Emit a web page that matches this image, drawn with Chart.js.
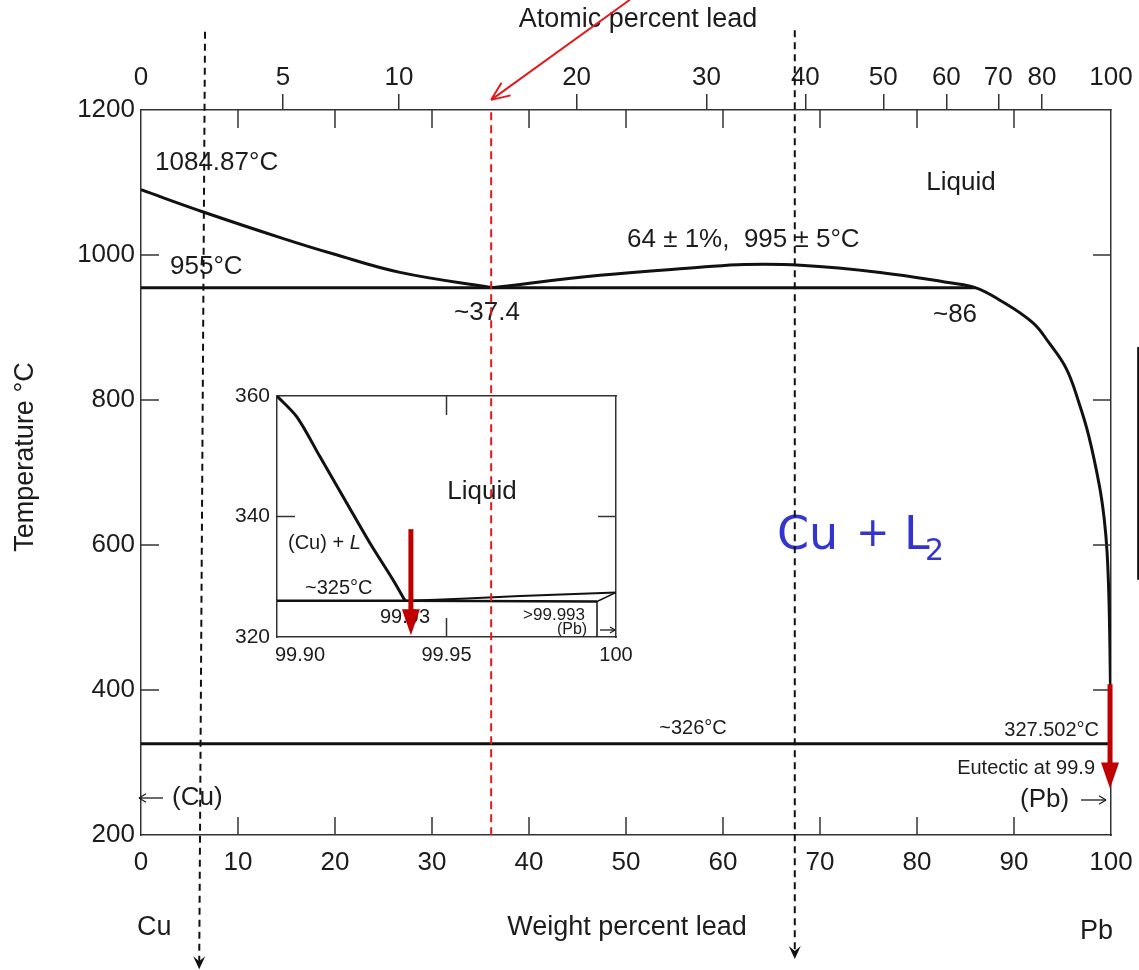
<!DOCTYPE html>
<html>
<head>
<meta charset="utf-8">
<title>Cu-Pb phase diagram</title>
<script src="https://cdn.jsdelivr.net/npm/chart.js@4.4.1/dist/chart.umd.min.js"></script>
<style>
    html, body { margin: 0; padding: 0; background: #fff; }
    #wrap { position: relative; width: 1139px; height: 970px; overflow: hidden; }
    #inset { position: absolute; left: 220px; top: 376px; }
    #main { position: absolute; left: 0; top: 0; }
</style>
</head>
<body>
<div id="wrap">
    <canvas id="inset" width="420" height="294"></canvas>
    <canvas id="main" width="1139" height="970"></canvas>
</div>
<script>
    // ---- main diagram: weight percent Pb vs temperature (deg C) ----
    var cuLiquidusWt = [0, 6.5, 14.6, 19.7, 26.7, 36.2];
    var cuLiquidusT  = [1090, 1059, 1023, 1002, 976, 955];
    var monotecticWt = [0, 86];
    var monotecticT  = [955, 955];
    var gapLiquidusWt = [36.2, 47.3, 57.6, 62.2, 68, 76.2, 83.2, 86, 88.5, 91.9, 93.6, 95.4, 96.7, 97.7, 98.8, 99.3, 99.6, 99.8, 99.95, 100];
    var gapLiquidusT  = [955, 972, 983, 987, 986, 976, 962, 955, 938, 907, 879, 843, 796, 751, 682, 636, 589, 520, 400, 327.5];
    var eutecticWt = [0, 100];
    var eutecticT  = [326, 326];

    var weightTicks = [0, 10, 20, 30, 40, 50, 60, 70, 80, 90, 100];
    var tempTicks   = [200, 400, 600, 800, 1000, 1200];
    var atomicTicks = [0, 5, 10, 20, 30, 40, 50, 60, 70, 80, 100];

    // hand drawn guides on the figure (wt%, deg C)
    var guideTopWt = [6.6, 67.4];
    var guideEndWt = [6.0, 67.4];
    var guideTopT  = [1308, 1310];
    var guideEndT  = [15, 29];
    var redGuideWt = [36.1, 36.1];
    var redGuideT  = [1197, 200];
    var redPointerWt = [50.4, 36.1];
    var redPointerT  = [1352, 1214];
    var eutArrowWt = [99.9, 99.9];
    var eutArrowT  = [408, 264];
    var edgeMarkWt = [102.8, 102.8];
    var edgeMarkT  = [873, 552];

    // ---- inset: 99.90 - 100 wt% Pb ----
    var inCuLiquidusWt = [99.900, 99.9059, 99.9127, 99.9206, 99.9274, 99.9342, 99.9378];
    var inCuLiquidusT  = [360, 356.5, 349.9, 342.2, 335.6, 329.5, 326.0];
    var inEutecticWt = [99.900, 99.9378, 99.9944];
    var inEutecticT  = [326.0, 326.0, 325.9];
    var inPbLiquidusWt = [99.9378, 99.956, 99.9717, 100];
    var inPbLiquidusT  = [326.0, 326.4, 326.8, 327.4];
    var inSolvusWt = [99.9944, 99.9944, 100];
    var inSolvusT  = [320, 325.9, 327.4];
    var inWeightTicks = [99.90, 99.95, 100];
    var inWeightLabels = ['99.90', '99.95', '100'];
    var inTempTicks = [320, 340, 360];
    var inArrowWt = [99.9395, 99.9395];
    var inArrowT  = [337.9, 320.3];

    var FONT = '"Liberation Sans", Arial, Helvetica, sans-serif';
    var INK = '#1c1c1c';
    var AXIS = '#333';

    function atToWt(at){
        var pb = 207.2, cu = 63.546;
        return at * pb / (at * pb + (100 - at) * cu) * 100;
    }

    function series(xs, ys){
        return xs.map(function(x, i){ return { x: x, y: ys[i] }; });
    }

    function lineSet(xs, ys, width, tension){
        return {
            data: series(xs, ys),
            showLine: true,
            borderColor: '#111',
            borderWidth: width,
            pointRadius: 0,
            tension: tension || 0,
            fill: false,
            xAxisID: 'x',
            yAxisID: 'y'
        };
    }

    function line(ctx, x1, y1, x2, y2){
        ctx.beginPath();
        ctx.moveTo(x1, y1);
        ctx.lineTo(x2, y2);
        ctx.stroke();
    }

    function text(ctx, str, x, y, size, align, style){
        ctx.font = (style ? style + ' ' : '') + size + 'px ' + FONT;
        ctx.textAlign = align || 'left';
        ctx.textBaseline = 'middle';
        ctx.fillText(str, x, y);
    }

    // thin horizontal arrow, head at x2
    function thinArrow(ctx, x1, x2, y, head){
        var dir = x2 > x1 ? 1 : -1;
        ctx.strokeStyle = INK;
        ctx.lineWidth = 1.3;
        line(ctx, x1, y, x2, y);
        line(ctx, x2, y, x2 - dir * head, y - head * 0.6);
        line(ctx, x2, y, x2 - dir * head, y + head * 0.6);
    }

    function thickArrow(ctx, x, y1, y2, color){
        ctx.strokeStyle = color;
        ctx.fillStyle = color;
        ctx.lineWidth = 5;
        line(ctx, x, y1, x, y2 - 20);
        ctx.beginPath();
        ctx.moveTo(x, y2);
        ctx.lineTo(x - 9, y2 - 26);
        ctx.lineTo(x + 9, y2 - 26);
        ctx.closePath();
        ctx.fill();
    }

    function dashedGuide(ctx, x1, y1, x2, y2){
        ctx.strokeStyle = '#111';
        ctx.fillStyle = '#111';
        ctx.lineWidth = 2;
        ctx.setLineDash([7, 5]);
        line(ctx, x1, y1, x2, y2 - 4);
        ctx.setLineDash([]);
        ctx.beginPath();
        ctx.moveTo(x2, y2);
        ctx.lineTo(x2 - 6, y2 - 13);
        ctx.lineTo(x2, y2 - 8);
        ctx.lineTo(x2 + 6, y2 - 13);
        ctx.closePath();
        ctx.fill();
    }

    var mainDecor = {
        id: 'mainDecor',
        afterDraw: function(chart){
            var ctx = chart.ctx, xs = chart.scales.x, ys = chart.scales.y, a = chart.chartArea;
            ctx.save();

            // inward tick marks on all four sides
            ctx.strokeStyle = AXIS;
            ctx.lineWidth = 1.5;
            xs.ticks.forEach(function(t){
                if(t.value <= 0 || t.value >= 100) return;
                var px = xs.getPixelForValue(t.value);
                line(ctx, px, a.bottom, px, a.bottom - 18);
                line(ctx, px, a.top, px, a.top + 18);
            });
            ys.ticks.forEach(function(t){
                if(t.value <= 200 || t.value >= 1200) return;
                var py = ys.getPixelForValue(t.value);
                line(ctx, a.left, py, a.left + 18, py);
                line(ctx, a.right, py, a.right - 18, py);
            });

            // axis titles
            ctx.fillStyle = INK;
            text(ctx, 'Atomic percent lead', 638, 20, 27, 'center');
            text(ctx, 'Weight percent lead', 627, 928, 27, 'center');
            text(ctx, 'Cu', 137, 928, 27, 'left');
            text(ctx, 'Pb', 1113, 932, 27, 'right');
            ctx.save();
            ctx.translate(26, 457);
            ctx.rotate(-Math.PI / 2);
            text(ctx, 'Temperature °C', 0, 0, 27, 'center');
            ctx.restore();

            // labels inside the diagram
            text(ctx, '1084.87°C', 155, 163, 26);
            text(ctx, '955°C', 170, 267, 26);
            text(ctx, '~37.4', 487, 313, 26, 'center');
            text(ctx, '64 ± 1%,  995 ± 5°C', 627, 240, 26);
            text(ctx, 'Liquid', 961, 183, 26, 'center');
            text(ctx, '~86', 955, 315, 26, 'center');
            text(ctx, '~326°C', 693, 728, 20, 'center');
            text(ctx, '327.502°C', 1099, 730, 20, 'right');
            text(ctx, 'Eutectic at 99.9', 1095, 768, 20, 'right');
            text(ctx, '(Pb)', 1020, 800, 26);
            thinArrow(ctx, 1081, 1106, 800, 7);
            thinArrow(ctx, 163, 139, 798, 7);
            text(ctx, '(Cu)', 172, 798, 26);

            // blue phase label
            ctx.fillStyle = '#3434cf';
            ctx.font = '46px "DejaVu Sans", sans-serif';
            ctx.textAlign = 'left';
            ctx.textBaseline = 'alphabetic';
            ctx.fillText('Cu', 777, 549);
            ctx.font = '40px "DejaVu Sans", sans-serif';
            ctx.fillText('+', 856, 546);
            ctx.font = '46px "DejaVu Sans", sans-serif';
            ctx.fillText('L', 904, 549);
            ctx.font = '30px "DejaVu Sans", sans-serif';
            ctx.fillText('2', 925, 560);

            // right edge fragment of the neighbouring figure
            ctx.strokeStyle = '#111';
            ctx.lineWidth = 2;
            line(ctx, xs.getPixelForValue(edgeMarkWt[0]), ys.getPixelForValue(edgeMarkT[0]),
                 xs.getPixelForValue(edgeMarkWt[1]), ys.getPixelForValue(edgeMarkT[1]));

            // black dashed guides
            guideTopWt.forEach(function(w, i){
                dashedGuide(ctx, xs.getPixelForValue(w), ys.getPixelForValue(guideTopT[i]),
                    xs.getPixelForValue(guideEndWt[i]), ys.getPixelForValue(guideEndT[i]));
            });

            // red dashed guide and pointer
            ctx.strokeStyle = '#e3191c';
            ctx.lineWidth = 2;
            ctx.setLineDash([8, 5]);
            line(ctx, xs.getPixelForValue(redGuideWt[0]), ys.getPixelForValue(redGuideT[0]),
                 xs.getPixelForValue(redGuideWt[1]), ys.getPixelForValue(redGuideT[1]));
            ctx.setLineDash([]);
            var px1 = xs.getPixelForValue(redPointerWt[0]), py1 = ys.getPixelForValue(redPointerT[0]);
            var px2 = xs.getPixelForValue(redPointerWt[1]), py2 = ys.getPixelForValue(redPointerT[1]);
            line(ctx, px1, py1, px2, py2);
            var ang = Math.atan2(py2 - py1, px2 - px1);
            line(ctx, px2, py2, px2 - 20 * Math.cos(ang - 0.4), py2 - 20 * Math.sin(ang - 0.4));
            line(ctx, px2, py2, px2 - 20 * Math.cos(ang + 0.4), py2 - 20 * Math.sin(ang + 0.4));

            // dark red arrow at the eutectic
            thickArrow(ctx, xs.getPixelForValue(eutArrowWt[0]), ys.getPixelForValue(eutArrowT[0]),
                ys.getPixelForValue(eutArrowT[1]), '#c00000');

            ctx.restore();
        }
    };

    var insetDecor = {
        id: 'insetDecor',
        afterDraw: function(chart){
            var ctx = chart.ctx, xs = chart.scales.x, ys = chart.scales.y, a = chart.chartArea;
            ctx.save();
            ctx.strokeStyle = AXIS;
            ctx.lineWidth = 1.5;
            var mid = xs.getPixelForValue(inWeightTicks[1]);
            line(ctx, mid, a.bottom, mid, a.bottom - 19);
            line(ctx, mid, a.top, mid, a.top + 19);
            var py = ys.getPixelForValue(inTempTicks[1]);
            line(ctx, a.left, py, a.left + 18, py);
            line(ctx, a.right, py, a.right - 18, py);

            // weight tick labels, first one starts at the axis
            ctx.fillStyle = INK;
            inWeightTicks.forEach(function(v, i){
                var x = xs.getPixelForValue(v);
                text(ctx, inWeightLabels[i], i === 0 ? x - 2 : x, a.bottom + 18, 20, i === 0 ? 'left' : 'center');
            });

            text(ctx, 'Liquid', 262, 116, 26, 'center');
            text(ctx, '(Cu) + ', 68, 167, 20);
            var w = ctx.measureText('(Cu) + ').width;
            text(ctx, 'L', 68 + w, 167, 20, 'left', 'italic');
            text(ctx, '~325°C', 85, 212, 20);
            text(ctx, '99.93', 185, 241, 20, 'center');
            text(ctx, '>99.993', 365, 239, 17, 'right');
            text(ctx, '(Pb)', 352, 254, 16, 'center');
            thinArrow(ctx, 380, 395, 254, 5);

            thickArrow(ctx, xs.getPixelForValue(inArrowWt[0]), ys.getPixelForValue(inArrowT[0]),
                ys.getPixelForValue(inArrowT[1]), '#c00000');
            ctx.restore();
        }
    };

    function fixedTicks(values){
        return function(scale){
            scale.ticks = values.map(function(v){ return { value: v }; });
        };
    }

    // keep the plot box where it is: ignore the room Chart.js keeps for the end labels
    function noSidePadding(height){
        return function(s){
            s.height = height;
            s.paddingLeft = 0;
            s.paddingRight = 0;
        };
    }

    function plainLabel(v){
        return String(v);
    }

    function initMain(){
        var tickFont = { family: FONT, size: 26 };
        new Chart(document.getElementById('main'), {
            type: 'scatter',
            data: {
                datasets: [
                    lineSet(cuLiquidusWt, cuLiquidusT, 3, 0.4),
                    lineSet(monotecticWt, monotecticT, 3, 0),
                    lineSet(gapLiquidusWt, gapLiquidusT, 3, 0.4),
                    lineSet(eutecticWt, eutecticT, 3, 0)
                ]
            },
            options: {
                responsive: false,
                animation: false,
                layout: { padding: 0 },
                plugins: { legend: { display: false }, tooltip: { enabled: false } },
                scales: {
                    x: {
                        type: 'linear', position: 'bottom', min: 0, max: 100,
                        afterBuildTicks: fixedTicks(weightTicks),
                        ticks: { font: tickFont, color: INK, padding: 12, autoSkip: false, maxRotation: 0, callback: plainLabel },
                        grid: { drawOnChartArea: false, drawTicks: false },
                        border: { color: AXIS, width: 1.5 },
                        afterFit: noSidePadding(135)
                    },
                    xTop: {
                        type: 'linear', position: 'top', min: 0, max: 100,
                        afterBuildTicks: function(s){
                            s.ticks = atomicTicks.map(function(at){ return { value: atToWt(at) }; });
                        },
                        ticks: {
                            font: tickFont, color: INK, padding: 1, autoSkip: false, maxRotation: 0,
                            callback: function(v, i){ return String(atomicTicks[i]); }
                        },
                        grid: {
                            drawOnChartArea: false, drawTicks: true, tickLength: 16, lineWidth: 1.5,
                            color: function(c){
                                return (c.tick && (c.tick.value <= 0 || c.tick.value >= 100)) ? 'rgba(0,0,0,0)' : AXIS;
                            }
                        },
                        border: { color: AXIS, width: 1.5 },
                        afterFit: noSidePadding(110)
                    },
                    y: {
                        type: 'linear', position: 'left', min: 200, max: 1200,
                        afterBuildTicks: fixedTicks(tempTicks),
                        ticks: { font: tickFont, color: INK, padding: 6, callback: plainLabel },
                        grid: { drawOnChartArea: false, drawTicks: false },
                        border: { color: AXIS, width: 1.5 },
                        afterFit: function(s){ s.width = 141; }
                    },
                    yRight: {
                        type: 'linear', position: 'right', min: 200, max: 1200,
                        ticks: { display: false },
                        grid: { drawOnChartArea: false, drawTicks: false },
                        border: { color: AXIS, width: 1.5 },
                        afterFit: function(s){ s.width = 28; }
                    }
                }
            },
            plugins: [mainDecor]
        });
    }

    function initInset(){
        new Chart(document.getElementById('inset'), {
            type: 'scatter',
            data: {
                datasets: [
                    lineSet(inCuLiquidusWt, inCuLiquidusT, 3, 0.3),
                    lineSet(inEutecticWt, inEutecticT, 2.5, 0),
                    lineSet(inPbLiquidusWt, inPbLiquidusT, 2, 0.3),
                    lineSet(inSolvusWt, inSolvusT, 1.5, 0)
                ]
            },
            options: {
                responsive: false,
                animation: false,
                layout: { padding: 0 },
                plugins: { legend: { display: false }, tooltip: { enabled: false } },
                scales: {
                    x: {
                        type: 'linear', position: 'bottom', min: 99.9, max: 100,
                        afterBuildTicks: fixedTicks(inWeightTicks),
                        ticks: { display: false },
                        grid: { drawOnChartArea: false, drawTicks: false },
                        border: { color: AXIS, width: 1.5 },
                        afterFit: noSidePadding(33)
                    },
                    xTop: {
                        type: 'linear', position: 'top', min: 99.9, max: 100,
                        ticks: { display: false },
                        grid: { drawOnChartArea: false, drawTicks: false },
                        border: { color: AXIS, width: 1.5 },
                        afterFit: noSidePadding(20)
                    },
                    y: {
                        type: 'linear', position: 'left', min: 320, max: 360,
                        afterBuildTicks: fixedTicks(inTempTicks),
                        ticks: { font: { family: FONT, size: 21 }, color: INK, padding: 7, callback: plainLabel },
                        grid: { drawOnChartArea: false, drawTicks: false },
                        border: { color: AXIS, width: 1.5 },
                        afterFit: function(s){ s.width = 57; }
                    },
                    yRight: {
                        type: 'linear', position: 'right', min: 320, max: 360,
                        ticks: { display: false },
                        grid: { drawOnChartArea: false, drawTicks: false },
                        border: { color: AXIS, width: 1.5 },
                        afterFit: function(s){ s.width = 24; }
                    }
                }
            },
            plugins: [insetDecor]
        });
    }

    initInset();
    initMain();
</script>
</body>
</html>
